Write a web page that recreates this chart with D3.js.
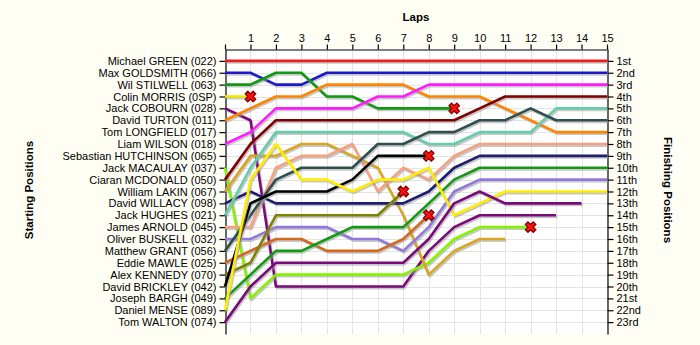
<!DOCTYPE html>
<html>
<head>
<meta charset="utf-8">
<script src="https://cdn.jsdelivr.net/npm/d3@7"></script>
<style>
  html, body { margin: 0; padding: 0; background: #FFFEF4; }
  svg { display: block; font-family: Arial, "Liberation Sans", sans-serif; }
</style>
</head>
<body>
<svg id="chart" width="700" height="345"></svg>
<script>
// Lap numbers shown along the top axis
const laps = [0, 1, 2, 3, 4, 5, 6, 7, 8, 9, 10, 11, 12, 13, 14, 15];

// Grid order (left axis) and finishing places (right axis)
const startLabels = [
  "Michael GREEN (022)", "Max GOLDSMITH (066)", "Wil STILWELL (063)", "Colin MORRIS (0SP)",
  "Jack COBOURN (028)", "David TURTON (011)", "Tom LONGFIELD (017)", "Liam WILSON (018)",
  "Sebastian HUTCHINSON (065)", "Jack MACAULAY (037)", "Ciaran MCDONALD (050)", "William LAKIN (067)",
  "David WILLACY (098)", "Jack HUGHES (021)", "James ARNOLD (045)", "Oliver BUSKELL (032)",
  "Matthew GRANT (056)", "Eddie MAWLE (025)", "Alex KENNEDY (070)", "David BRICKLEY (042)",
  "Joseph BARGH (049)", "Daniel MENSE (089)", "Tom WALTON (074)"
];
const finishLabels = [
  "1st", "2nd", "3rd", "4th", "5th", "6th", "7th", "8th", "9th", "10th", "11th", "12th",
  "13th", "14th", "15th", "16th", "17th", "18th", "19th", "20th", "21st", "22nd", "23rd"
];

// Running position of each driver at the end of every lap (index = lap, starting at lap 0)
const greenMichael   = [1, 1, 1, 1, 1, 1, 1, 1, 1, 1, 1, 1, 1, 1, 1, 1];
const goldsmithMax   = [2, 2, 3, 3, 2, 2, 2, 2, 2, 2, 2, 2, 2, 2, 2, 2];
const stilwellWil    = [3, 3, 2, 2, 4, 4, 5, 5, 5, 5];
const morrisColin    = [4, 4];
const cobournJack    = [5, 6, 20, 20, 20, 20, 20, 20, 17, 15, 14, 14, 14, 14];
const turtonDavid    = [6, 5, 4, 4, 3, 3, 3, 3, 4, 4, 4, 5, 6, 7, 7, 7];
const wilsonLiam     = [8, 7, 5, 5, 5, 5, 4, 4, 3, 3, 3, 3, 3, 3, 3, 3];
const macaulayJack   = [10, 21, 19, 19, 19, 19, 19, 19, 18, 16, 15, 15, 15];
const mcdonaldCiaran = [11, 8, 6, 6, 6, 6, 6, 6, 6, 6, 5, 4, 4, 4, 4, 4];
const lakinWilliam   = [12, 9, 9, 8, 8, 9, 10, 14, 19, 17, 16, 16];
const willacyDavid   = [13, 12, 13, 13, 13, 13, 13, 13, 12, 10, 9, 9, 9, 9, 9, 9];
const hughesJack     = [14, 10, 7, 7, 7, 7, 7, 7, 8, 8, 7, 7, 7, 5, 5, 5];
const arnoldJames    = [15, 15, 10, 9, 9, 8, 12, 10, 11, 9, 8, 8, 8, 8, 8, 8];
const buskellOliver  = [16, 16, 15, 15, 15, 16, 16, 17, 15, 12, 11, 11, 11, 11, 11, 11];
const grantMatthew   = [17, 14, 11, 10, 10, 10, 8, 8, 7, 7, 6, 6, 5, 6, 6, 6];
const mawleEddie     = [18, 17, 16, 16, 17, 17, 17, 16, 14];
const kennedyAlex    = [19, 18, 14, 14, 14, 14, 14, 12];
const brickleyDavid  = [20, 13, 12, 12, 12, 11, 9, 9, 9];
const barghJoseph    = [21, 19, 17, 17, 16, 15, 15, 15, 13, 11, 10, 10, 10, 10, 10, 10];
const menseDaniel    = [22, 11, 8, 11, 11, 12, 11, 11, 10, 14, 13, 12, 12, 12, 12, 12];
const waltonTom      = [23, 20, 18, 18, 18, 18, 18, 18, 16, 13, 12, 13, 13, 13, 13];

// Drivers whose race ended with a retirement (marked with a cross)
const retired = ["Wil STILWELL (063)", "Colin MORRIS (0SP)", "Jack MACAULAY (037)",
                 "Eddie MAWLE (025)", "Alex KENNEDY (070)", "David BRICKLEY (042)"];

const series = [
  { name: "Michael GREEN (022)",   pos: greenMichael,   color: "#EE1C1C" },
  { name: "Max GOLDSMITH (066)",   pos: goldsmithMax,   color: "#1A1ACC" },
  { name: "Wil STILWELL (063)",    pos: stilwellWil,    color: "#119911" },
  { name: "Colin MORRIS (0SP)",    pos: morrisColin,    color: "#F2E600" },
  { name: "Jack COBOURN (028)",    pos: cobournJack,    color: "#7A0A7A" },
  { name: "David TURTON (011)",    pos: turtonDavid,    color: "#FF8400" },
  { name: "Liam WILSON (018)",     pos: wilsonLiam,     color: "#FF1AFF" },
  { name: "Jack MACAULAY (037)",   pos: macaulayJack,   color: "#84F200" },
  { name: "Ciaran MCDONALD (050)", pos: mcdonaldCiaran, color: "#800000" },
  { name: "William LAKIN (067)",   pos: lakinWilliam,   color: "#DAA520" },
  { name: "David WILLACY (098)",   pos: willacyDavid,   color: "#1C1C70" },
  { name: "Jack HUGHES (021)",     pos: hughesJack,     color: "#66CDAA" },
  { name: "James ARNOLD (045)",    pos: arnoldJames,    color: "#F6A080" },
  { name: "Oliver BUSKELL (032)",  pos: buskellOliver,  color: "#9378DB" },
  { name: "Matthew GRANT (056)",   pos: grantMatthew,   color: "#2F4F4F" },
  { name: "Eddie MAWLE (025)",     pos: mawleEddie,     color: "#D2691E" },
  { name: "Alex KENNEDY (070)",    pos: kennedyAlex,    color: "#808000" },
  { name: "David BRICKLEY (042)",  pos: brickleyDavid,  color: "#000000" },
  { name: "Joseph BARGH (049)",    pos: barghJoseph,    color: "#139A13" },
  { name: "Daniel MENSE (089)",    pos: menseDaniel,    color: "#FFEE00" },
  { name: "Tom WALTON (074)",      pos: waltonTom,      color: "#7A0A7A" }
];

const svg = d3.select("#chart");
const x = d3.scaleLinear().domain([0, 15]).range([225, 607]);
const y = d3.scaleLinear().domain([0, 24]).range([49, 334]);

// plot area
svg.append("rect")
  .attr("x", x(0)).attr("y", y(0))
  .attr("width", x(15) - x(0)).attr("height", y(24) - y(0))
  .attr("fill", "#FFFFFF");

// grid
const grid = svg.append("g").attr("stroke", "#E4E4E4").attr("stroke-width", 1);
grid.selectAll("line.v").data(laps.slice(1, 15)).join("line")
  .attr("x1", d => Math.round(x(d)) + 0.5).attr("x2", d => Math.round(x(d)) + 0.5)
  .attr("y1", y(0)).attr("y2", y(24));
grid.selectAll("line.h").data(d3.range(1, 24)).join("line")
  .attr("y1", d => Math.round(y(d)) + 0.5).attr("y2", d => Math.round(y(d)) + 0.5)
  .attr("x1", x(0)).attr("x2", x(15));

// axes
const axisFont = g => g.selectAll("text")
  .attr("font-size", 11).attr("fill", "#000").attr("font-family", "Arial, 'Liberation Sans', sans-serif");

svg.append("g").attr("transform", `translate(0,${Math.round(y(0)) + 0.5})`)
  .call(d3.axisTop(x).tickValues(laps).tickFormat(d => d === 0 ? "" : d).tickSize(5).tickSizeOuter(0).tickPadding(3))
  .call(axisFont)
  .call(g => g.selectAll("line,path").attr("stroke", "#000").attr("stroke-width", 1.2));

svg.append("g").attr("transform", `translate(${Math.round(x(0)) + 0.5},0)`)
  .call(d3.axisLeft(y).tickValues(d3.range(1, 24)).tickFormat(d => startLabels[d - 1]).tickSize(6).tickSizeOuter(0).tickPadding(3))
  .call(axisFont)
  .call(g => g.selectAll("line,path").attr("stroke", "#000").attr("stroke-width", 1.2));

svg.append("g").attr("transform", `translate(${Math.round(x(15)) + 0.5},0)`)
  .call(d3.axisRight(y).tickValues(d3.range(1, 24)).tickFormat(d => finishLabels[d - 1]).tickSize(6).tickSizeOuter(0).tickPadding(3))
  .call(axisFont)
  .call(g => g.selectAll("line,path").attr("stroke", "#000").attr("stroke-width", 1.2));

// titles
svg.append("text").attr("x", 416).attr("y", 21).attr("text-anchor", "middle")
  .attr("font-size", 11.5).attr("font-weight", "bold").text("Laps");
svg.append("text").attr("transform", "translate(33,190) rotate(-90)").attr("text-anchor", "middle")
  .attr("font-size", 11.5).attr("font-weight", "bold").text("Starting Positions");
svg.append("text").attr("transform", "translate(664,190) rotate(90)").attr("text-anchor", "middle")
  .attr("font-size", 11.5).attr("font-weight", "bold").text("Finishing Positions");

// lap lines, each with a soft drop shadow
const line = d3.line().x((d, i) => x(i)).y(d => y(d));
const traces = svg.append("g");
series.forEach(s => {
  traces.append("path").attr("d", line(s.pos))
    .attr("fill", "none").attr("stroke", "#9A9A9A").attr("stroke-opacity", 0.55)
    .attr("stroke-width", 2.6).attr("stroke-linejoin", "round")
    .attr("transform", "translate(1.2,1.6)");
  traces.append("path").attr("d", line(s.pos))
    .attr("fill", "none").attr("stroke", s.color)
    .attr("stroke-width", 2.6).attr("stroke-linejoin", "round");
});

// retirement crosses
const cross = d3.symbol().type(d3.symbolCross).size(70);
series.filter(s => retired.includes(s.name)).forEach(s => {
  const last = s.pos.length - 1;
  svg.append("path").attr("d", cross())
    .attr("transform", `translate(${x(last)},${y(s.pos[last])}) rotate(45)`)
    .attr("fill", "#FF1010").attr("stroke", "#7A0000").attr("stroke-width", 1.2);
});
</script>
</body>
</html>
